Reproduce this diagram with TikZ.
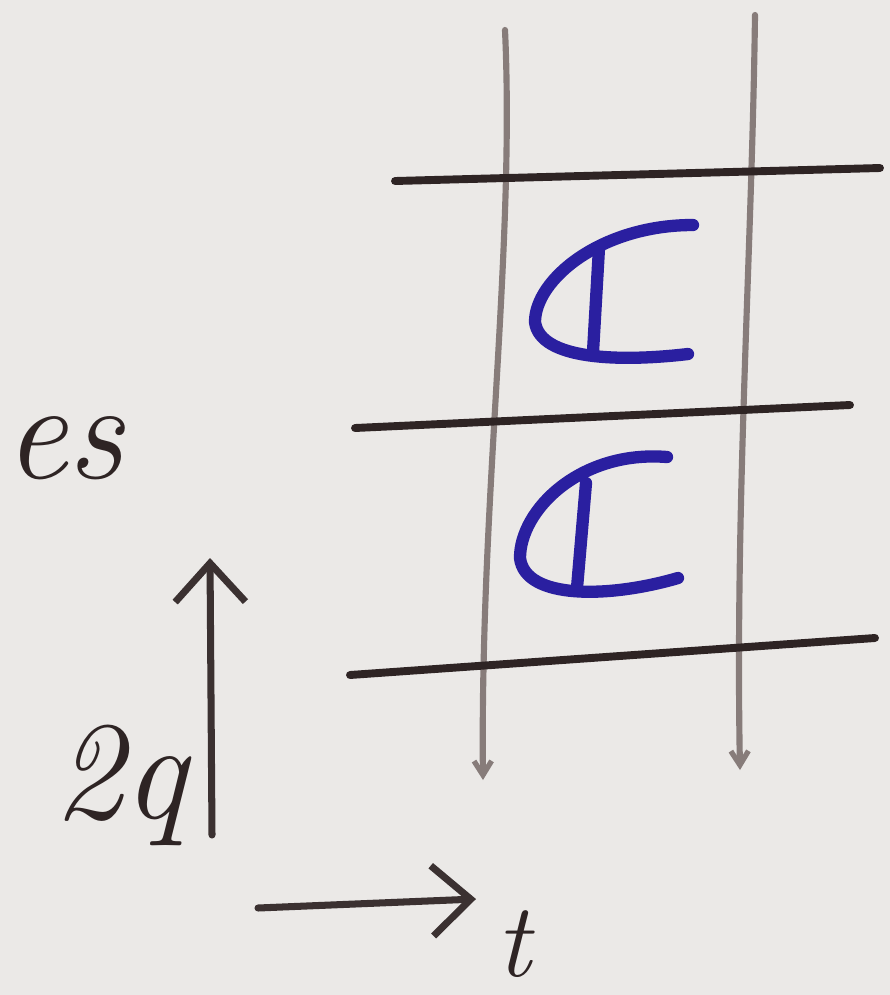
\documentclass[tikz,border=0pt]{standalone}
\usetikzlibrary{arrows.meta}
\definecolor{paper}{HTML}{EBE9E7}
\definecolor{pencil}{HTML}{877C7A}
\definecolor{ink}{HTML}{2E2424}
\definecolor{pen}{HTML}{2A1FA0}
\tikzset{
  gridline/.style={line width=4.5pt, ink, line cap=round},
  wireline/.style={line width=3.5pt, pencil, line cap=round, -{Straight Barb[length=8pt,width=10pt,line width=3pt]}},
  axisline/.style={line width=4pt, ink!85!pencil, line cap=round, -{Straight Barb[length=22pt,width=40pt,line width=4pt]}},
  capmark/.style={line width=7pt, pen, line cap=round, line join=round},
  handtext/.style={ink, font=\fontsize{72pt}{72pt}\selectfont\itshape, inner sep=0pt}
}
\begin{document}
\begin{tikzpicture}[x=0.02cm, y=-0.02cm]

    %----- PAPER -----
    \fill[paper] (0,0) rectangle (890,995);
    \useasboundingbox (0,0) rectangle (890,995);

    %----- VERTICAL LINES (pencil) -----
    \draw[wireline] (505,30) .. controls (515,250) and (480,500) .. (483,780);
    \draw[wireline] (755,15) .. controls (752,250) and (735,500) .. (740,770);

    %----- HORIZONTAL LINES -----
    \draw[gridline] (395,181) -- (880,168);
    \draw[gridline] (355,428) -- (850,405);
    \draw[gridline] (350,675) -- (875,638);

    %----- CAP MARKS (blue) -----
    \draw[capmark] (693,225) .. controls (600,225) and (535,280) .. (535,322)
                   .. controls (540,360) and (620,362) .. (688,354);
    \draw[capmark] (599,248) -- (593,352);
    \draw[capmark] (667,457) .. controls (580,450) and (520,510) .. (520,558)
                   .. controls (525,600) and (610,598) .. (678,578);
    \draw[capmark] (586,483) -- (577,588);

    %----- AXES -----
    \coordinate (ylow) at (212,835);
    \coordinate (ytop) at (210,558);
    \draw[axisline] (ylow) -- (ytop);
    \coordinate (xleft) at (258,908);
    \coordinate (xright) at (476,899);
    \draw[axisline] (xleft) -- (xright);

    %----- LABELS -----
    \node[handtext, font=\fontsize{80pt}{80pt}\selectfont\itshape, anchor=west] (eslabel) at (4,448) {es};
    \node[handtext, font=\fontsize{80pt}{80pt}\selectfont\itshape, anchor=east] (qlabel) at (ylow) [xshift=-0.5cm, yshift=1.0cm] {2q};
    \node[handtext, font=\fontsize{60pt}{60pt}\selectfont\itshape, anchor=west] (tlabel) at (xright) [xshift=0.4cm, yshift=-0.9cm] {t};

\end{tikzpicture}
\end{document}
